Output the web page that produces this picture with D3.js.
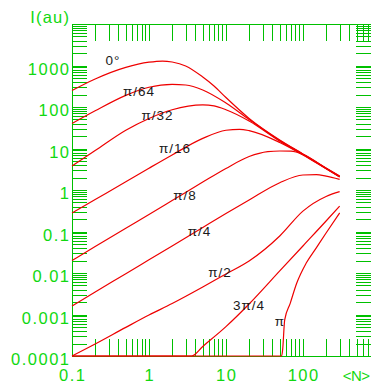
<!DOCTYPE html>
<html><head><meta charset="utf-8">
<script src="https://cdn.jsdelivr.net/npm/d3@7"></script>
<style>
html,body{margin:0;padding:0;background:#fff;overflow:hidden}
svg{display:block}
text{font-family:"Liberation Sans",Arial,sans-serif}
</style></head><body>
<svg id="c" width="371" height="382"></svg>
<script>
// ---- data ----
const xLabelValues = [0.1, 1, 10, 100];
const xLabels = ["0.1", "1", "10", "100"];
const yLabelValues = [1e-4, 1e-3, 1e-2, 0.1, 1, 10, 100, 1000];
const yLabels = ["0.0001", "0.001", "0.01", "0.1", "1", "10", "100", "1000"];
const seriesNames = ["0°", "π/64", "π/32", "π/16", "π/8", "π/4", "π/2", "3π/4", "π"];

const s0 = [[0.1,250],[0.2,473],[0.5,900],[1,1200],[1.5,1280],[2,1215],[3,975],[5,528],[7,321],[10,169],[20,53],[50,16],[100,7.4],[200,3.4],[300,2.17]];
const s64 = [[0.1,40],[0.2,81],[0.5,191],[1,299],[2,352],[3,339],[5,257],[10,125],[20,50],[50,15.5],[100,7.3],[200,3.35],[300,2.15]];
const s32 = [[0.1,3.8],[0.2,8.9],[0.5,27.5],[1,53],[2,86],[5,112],[7,106],[10,86],[20,46],[50,15],[100,7.2],[200,3.3],[300,2.1]];
const s16 = [[0.1,0.28],[0.2,0.59],[0.5,1.58],[1,3.35],[2,7.0],[5,17.5],[10,27.5],[15,29],[20,27],[50,14],[100,7],[200,3.25],[300,2.08]];
const s8 = [[0.1,0.02],[0.2,0.0433],[0.5,0.12],[1,0.258],[2,0.558],[5,1.55],[10,3.3],[20,6.4],[35,8.4],[50,8.7],[70,8.6],[100,7.2],[200,3.3],[300,2.05]];
const s4 = [[0.1,1.6e-3],[0.2,3.5e-3],[0.5,9.6e-3],[1,0.0208],[2,0.045],[5,0.125],[10,0.27],[20,0.575],[50,1.5],[100,2.3],[150,2.35],[200,2.15],[300,1.8]];
const s2 = [[0.1,1e-4],[0.2,1.95e-4],[0.5,4.9e-4],[1,9.7e-4],[2,1.84e-3],[5,4.6e-3],[10,9.5e-3],[20,0.0195],[50,0.078],[100,0.31],[200,0.7],[300,0.91]];
const s34 = [[0.1,1e-5],[3.58,1e-4],[5,1.7e-4],[10,5.1e-4],[20,1.79e-3],[50,0.0112],[100,0.0448],[200,0.179],[300,0.41]];
const sPi = [[0.1,1e-5],[53,1e-5],[54.5,1.4e-4],[58,7.4e-4],[68.4,1.86e-3],[83,5.65e-3],[110,0.0171],[150,0.041],[200,0.092],[300,0.28]];
const seriesData = [s0, s64, s32, s16, s8, s4, s2, s34, sPi];

const labelN = [0.341, 0.742, 1.29, 2.18, 2.94, 4.53, 8.36, 19.9, 50.3];
const labelI = [1358, 236, 64, 10.3, 0.76, 0.103, 0.0107, 1.7e-3, 7e-4];

// ---- layout ----
const L = 72, R = 372, T = 24, B = 356;
const green = "#00c000", textGreen = "#10d810";
const svg = d3.select("#c");
const x = d3.scaleLog().domain([0.1, 790]).range([L, R]).clamp(true);
const y = d3.scaleLog().domain([1e-4, 1e4]).range([B, T]).clamp(true);

const xt = x.ticks(), yt = y.ticks();
const ax = svg.append("g").attr("shape-rendering", "crispEdges");
function styleAxis(g) {
  g.selectAll("path,line").attr("stroke", green).attr("stroke-width", 1);
  g.selectAll("text").remove();
}
ax.append("g").attr("transform", `translate(0,${B})`)
  .call(d3.axisBottom(x).tickValues(xt).tickSizeInner(-17).tickSizeOuter(0).tickFormat("")).call(styleAxis);
ax.append("g").attr("transform", `translate(0,${T})`)
  .call(d3.axisTop(x).tickValues(xt).tickSizeInner(-17).tickSizeOuter(0).tickFormat("")).call(styleAxis);
ax.append("g").attr("transform", `translate(${L},0)`)
  .call(d3.axisLeft(y).tickValues(yt).tickSizeInner(-15).tickSizeOuter(0).tickFormat("")).call(styleAxis);
ax.append("g").attr("transform", `translate(${R},0)`)
  .call(d3.axisRight(y).tickValues(yt).tickSizeInner(-16).tickSizeOuter(0).tickFormat("")).call(styleAxis);

// tick labels
svg.append("g").selectAll("text").data(xLabelValues).join("text")
  .attr("x", d => x(d)).attr("y", 380.5).attr("text-anchor", "middle")
  .attr("font-size", 16.5).attr("letter-spacing", 1.5).attr("dx", 0.75)
  .attr("fill", textGreen).text((d, i) => xLabels[i]);
svg.append("g").selectAll("text").data(yLabelValues).join("text")
  .attr("x", 69).attr("y", d => y(d) + 9).attr("text-anchor", "end")
  .attr("font-size", 16.5).attr("letter-spacing", 1.5).attr("dx", 1.5)
  .attr("fill", textGreen).text((d, i) => yLabels[i]);
svg.append("text").attr("x", 69).attr("y", 23).attr("text-anchor", "end")
  .attr("font-size", 16.5).attr("letter-spacing", 1.2).attr("dx", 1.2)
  .attr("fill", textGreen).text("I(au)");
svg.append("text").attr("x", 369.5).attr("y", 380.5).attr("text-anchor", "end")
  .attr("font-size", 15).attr("letter-spacing", -0.5).attr("fill", textGreen).text("<N>");

// curves
const line = d3.line().x(d => x(d[0])).y(d => y(d[1])).curve(d3.curveMonotoneX);
svg.append("g").selectAll("path").data(seriesData).join("path")
  .attr("d", line).attr("fill", "none").attr("stroke", "#ee0000").attr("stroke-width", 1.2);

// curve labels
svg.append("g").selectAll("text").data(seriesNames).join("text")
  .attr("x", (d, i) => x(labelN[i])).attr("y", (d, i) => y(labelI[i]))
  .attr("dy", "0.35em").attr("text-anchor", "middle")
  .attr("font-size", 13.5).attr("letter-spacing", 1).attr("fill", "#1a1a1a")
  .text(d => d);
</script>
</body></html>
